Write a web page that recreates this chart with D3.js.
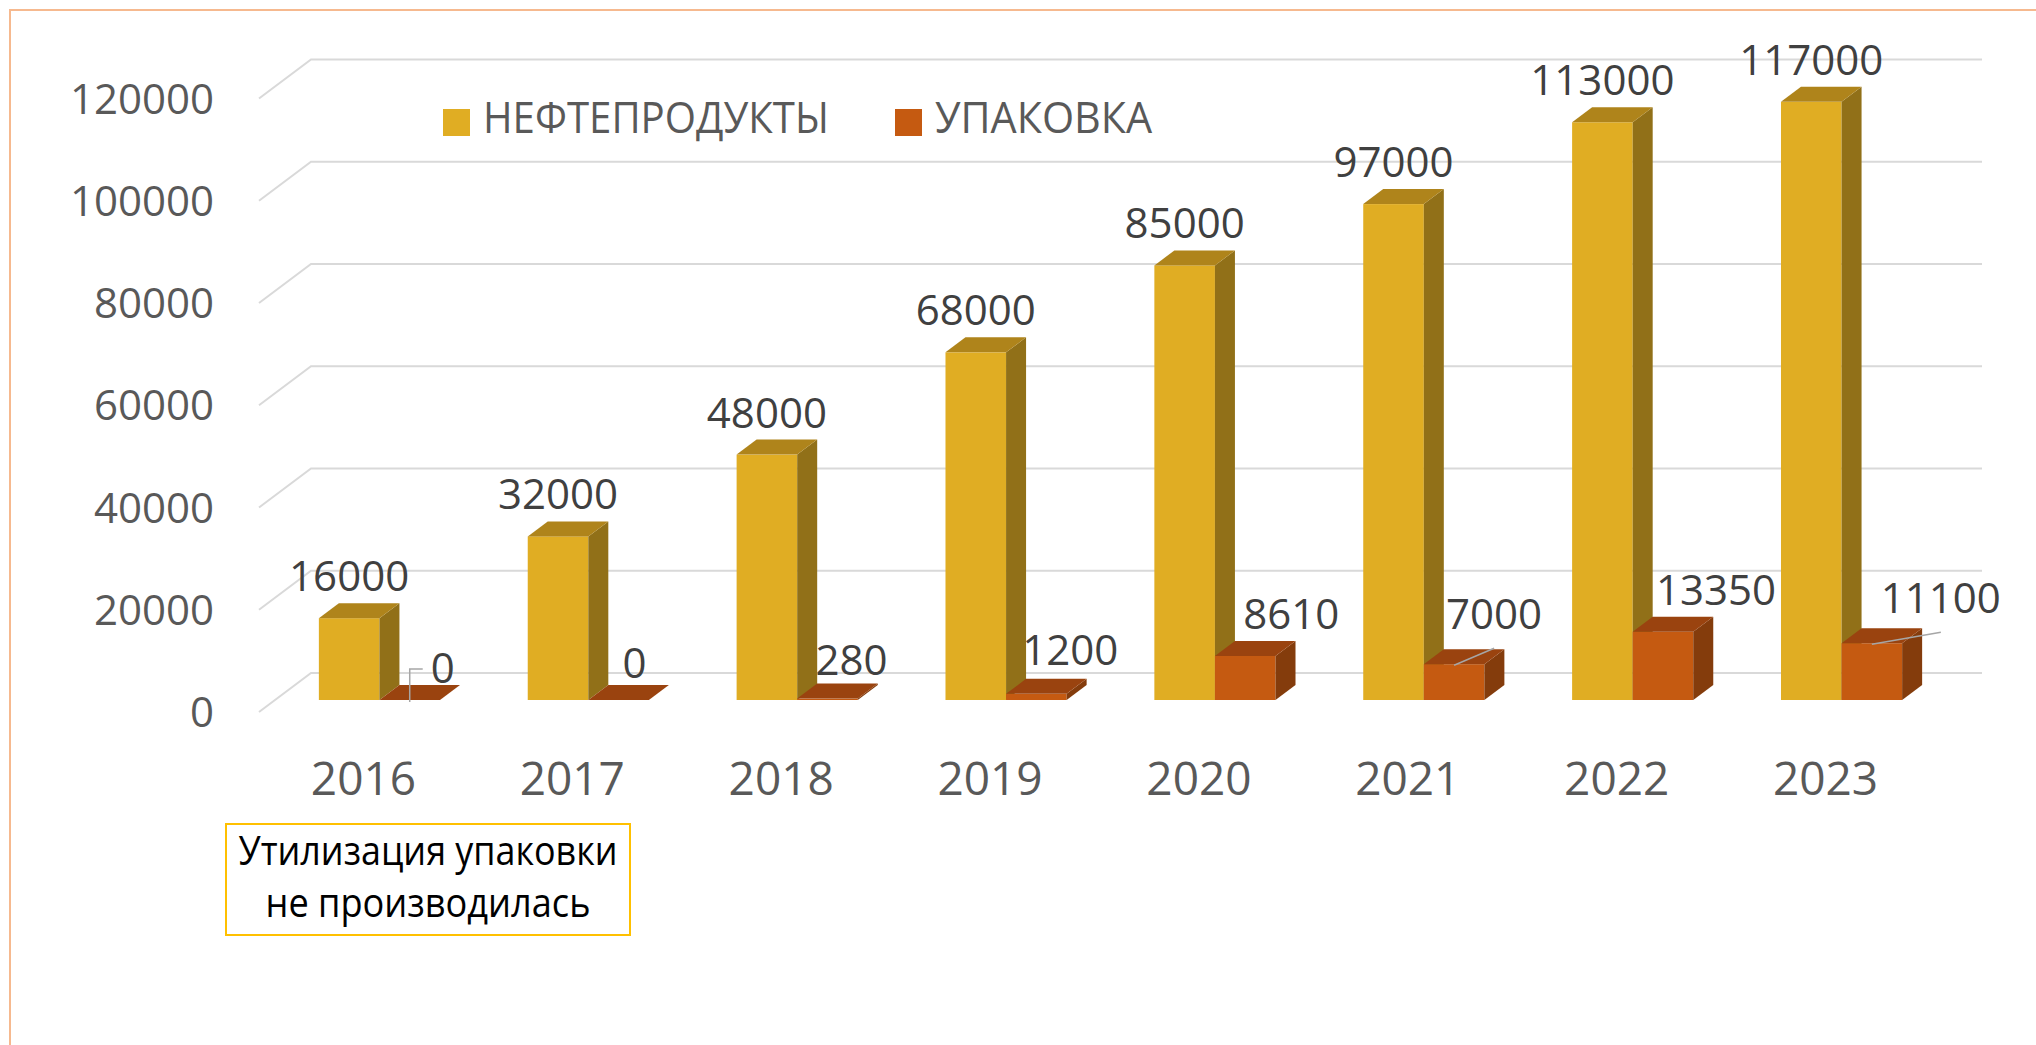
<!DOCTYPE html>
<html>
<head>
<meta charset="utf-8">
<script src="https://cdn.jsdelivr.net/npm/d3@7"></script>
<style>
  body { margin: 0; background: #fff; }
  text { font-family: "Open Sans", sans-serif; }
</style>
</head>
<body>
<div id="chart"></div>
<script>
// data
var years = ["2016", "2017", "2018", "2019", "2020", "2021", "2022", "2023"];
var oilValues = [16000, 32000, 48000, 68000, 85000, 97000, 113000, 117000];
var packValues = [0, 0, 280, 1200, 8610, 7000, 13350, 11100];
var seriesNames = ["НЕФТЕПРОДУКТЫ", "УПАКОВКА"];
var yTicks = [0, 20000, 40000, 60000, 80000, 100000, 120000];
var noteLines = ["Утилизация упаковки", "не производилась"];

// layout: hand placed labels of the small series (dx, dy from default spot) and leader lines
var packLabelShift = [[33, 10], [16, 5], [24, 3], [34, -2], [46, 0], [40, -8], [53, 0], [69, -3]];
var packLeader = ["elbow", null, null, null, null, "line", null, "line"];
// the source font is narrow (Calibri), so long texts are squeezed to the measured width
var legendWidths = [346, 217];
var noteWidths = [379, 325];

var W = 2036, H = 1045;
var floorFront = 712,          // y of value 0 on the front edge of the floor
    depth = {dx: 52, dy: -39},  // floor depth (front edge -> back wall)
    barShift = {dx: 16, dy: -12}, // front face of the bars inside the floor
    barDepth = {dx: 20, dy: -15};

var colors = {
  oil:  {front: "#E0AD23", side: "#917018", top: "#AF841B"},
  pack: {front: "#C55A11", side: "#843C0C", top: "#9A430F"}
};

var svg = d3.select("#chart").append("svg")
    .attr("width", W)
    .attr("height", H);

// outer frame (only top and left edge are inside the picture)
svg.append("rect")
    .attr("x", 10).attr("y", 10)
    .attr("width", W + 100).attr("height", H + 100)
    .attr("fill", "none")
    .attr("stroke", "#F6B98F")
    .attr("stroke-width", 2);

var x = d3.scaleBand()
    .domain(years)
    .range([259, 1930])
    .paddingInner(0.42)
    .paddingOuter(0.21);

var xs = d3.scaleBand()
    .domain(seriesNames)
    .range([0, x.bandwidth()]);

var h = d3.scaleLinear()
    .domain([0, 120000])
    .range([0, 613.5]);

// gridlines: short diagonal on the left, then along the back wall
svg.append("g")
  .selectAll("path")
  .data(yTicks)
  .enter()
  .append("path")
    .attr("fill", "none")
    .attr("stroke", "#D9D9D9")
    .attr("stroke-width", 2)
    .attr("d", function(t) {
      var yf = floorFront - h(t);
      return "M259," + yf + "L" + (259 + depth.dx) + "," + (yf + depth.dy) + "L1982," + (yf + depth.dy);
    });

// y axis labels
svg.append("g")
  .selectAll("text")
  .data(yTicks)
  .enter()
  .append("text")
    .attr("x", 214)
    .attr("y", function(t) { return floorFront - h(t); })
    .attr("dy", "0.36em")
    .attr("text-anchor", "end")
    .attr("fill", "#595959")
    .style("font-size", "42px")
    .text(function(t) { return t; });

// one 3d box
function drawBar(g, x0, w, v, c) {
  var yb = floorFront + barShift.dy,
      yt = yb - h(v),
      x1 = x0 + w,
      dx = barDepth.dx, dy = barDepth.dy;
  if (v > 0) {
    g.append("rect")
      .attr("x", x0).attr("y", yt)
      .attr("width", w).attr("height", yb - yt)
      .attr("fill", c.front);
    g.append("path")
      .attr("fill", c.side)
      .attr("d", "M" + x1 + "," + yt + "L" + (x1 + dx) + "," + (yt + dy) + "L" + (x1 + dx) + "," + (yb + dy) + "L" + x1 + "," + yb + "Z");
  }
  g.append("path")
    .attr("fill", c.top)
    .attr("d", "M" + x0 + "," + yt + "L" + (x0 + dx) + "," + (yt + dy) + "L" + (x1 + dx) + "," + (yt + dy) + "L" + x1 + "," + yt + "Z");
  return yt;
}

var bars = svg.append("g");
var labels = svg.append("g").attr("fill", "#404040").style("font-size", "42px");

years.forEach(function(yr, i) {
  var g = bars.append("g");
  var xo = x(yr) + xs(seriesNames[0]) + barShift.dx,
      xp = x(yr) + xs(seriesNames[1]) + barShift.dx,
      w = xs.bandwidth();

  var topOil = drawBar(g, xo, w, oilValues[i], colors.oil);
  var topPack = drawBar(g, xp, w, packValues[i], colors.pack);

  labels.append("text")
    .attr("x", xo + w / 2)
    .attr("y", topOil + barDepth.dy - 12)
    .attr("text-anchor", "middle")
    .text(oilValues[i]);

  var lx = xp + w / 2 + packLabelShift[i][0],
      ly = topPack + barDepth.dy - 12 + packLabelShift[i][1];
  labels.append("text")
    .attr("x", lx)
    .attr("y", ly)
    .attr("text-anchor", "middle")
    .text(packValues[i]);

  if (packLeader[i] === "elbow") {
    svg.append("path")
      .attr("fill", "none").attr("stroke", "#A6A6A6").attr("stroke-width", 1.5)
      .attr("d", "M" + (xp + w / 2) + "," + (topPack + 2) + "V" + (ly - 14) + "H" + (lx - 20));
  } else if (packLeader[i] === "line") {
    svg.append("path")
      .attr("fill", "none").attr("stroke", "#A6A6A6").attr("stroke-width", 1.5)
      .attr("d", "M" + (xp + w / 2) + "," + (topPack + 1) + "L" + lx + "," + (ly + 19));
  }
});

// category labels on the front edge of the floor
svg.append("g")
  .selectAll("text")
  .data(years)
  .enter()
  .append("text")
    .attr("x", function(d) { return x(d) + x.bandwidth() / 2; })
    .attr("y", 795)
    .attr("text-anchor", "middle")
    .attr("fill", "#595959")
    .style("font-size", "46px")
    .text(function(d) { return d; });

// legend
var legend = svg.append("g").style("font-size", "43px").attr("fill", "#595959");
var legendX = [443, 895];
seriesNames.forEach(function(name, i) {
  legend.append("rect")
    .attr("x", legendX[i]).attr("y", 109)
    .attr("width", 27).attr("height", 27)
    .attr("fill", i === 0 ? colors.oil.front : colors.pack.front);
  legend.append("text")
    .attr("x", legendX[i] + 40)
    .attr("y", 133)
    .attr("textLength", legendWidths[i])
    .attr("lengthAdjust", "spacingAndGlyphs")
    .text(name);
});

// note box
var note = svg.append("g");
note.append("rect")
    .attr("x", 226).attr("y", 824)
    .attr("width", 404).attr("height", 111)
    .attr("fill", "#fff")
    .attr("stroke", "#FFC000")
    .attr("stroke-width", 2);
note.selectAll("text")
  .data(noteLines)
  .enter()
  .append("text")
    .attr("x", function(d, i) { return 428 - noteWidths[i] / 2; })
    .attr("y", function(d, i) { return 865 + i * 52; })
    .attr("textLength", function(d, i) { return noteWidths[i]; })
    .attr("lengthAdjust", "spacingAndGlyphs")
    .attr("fill", "#000")
    .style("font-size", "41px")
    .text(function(d) { return d; });
</script>
</body>
</html>
